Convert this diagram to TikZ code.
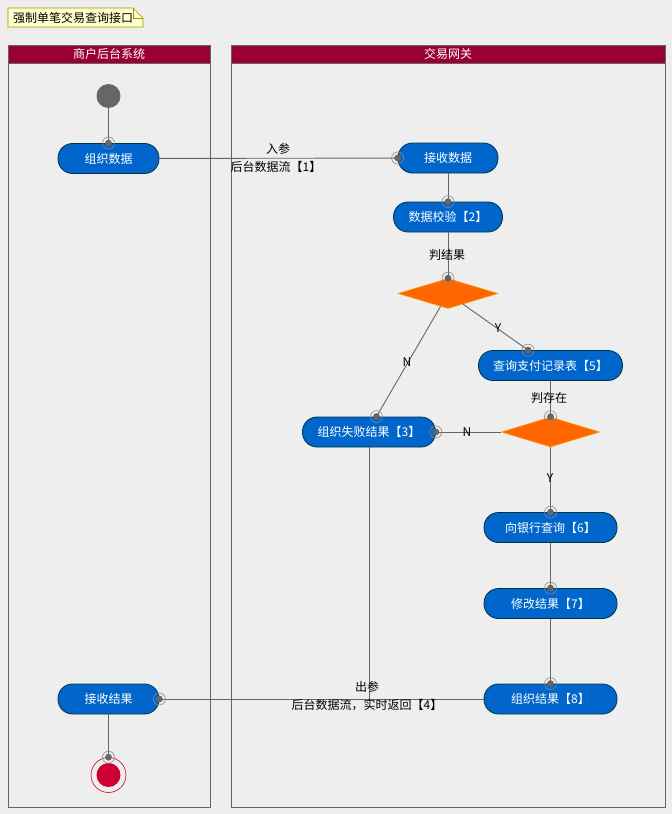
\documentclass[tikz,border=0pt]{standalone}
\usepackage{fontspec}
\setmainfont{Noto Sans CJK SC}
\usetikzlibrary{shapes.geometric,calc}
\definecolor{bg}{HTML}{EEEEEE}
\definecolor{hdr}{HTML}{990033}
\definecolor{lanegray}{HTML}{666666}
\definecolor{nodeblue}{HTML}{0066CC}
\definecolor{nodeborder}{HTML}{003344}
\definecolor{decfill}{HTML}{FF6600}
\definecolor{decborder}{HTML}{FF9900}
\definecolor{linegray}{HTML}{666666}
\definecolor{ringgray}{HTML}{888888}
\definecolor{dotgray}{HTML}{666666}
\definecolor{endred}{HTML}{CC0033}
\definecolor{notefill}{HTML}{FFFFCC}
\definecolor{noteborder}{HTML}{999900}
\begin{document}
\begin{tikzpicture}[x=1pt,y=-1pt,
  font=\fontsize{12pt}{14pt}\selectfont,
  act/.style={draw=nodeborder, fill=nodeblue, text=white, rounded corners=14.5pt,
    minimum height=30pt, inner sep=0pt, line width=0.8pt},
  dec/.style={diamond, draw=decborder, fill=decfill, minimum width=100pt,
    minimum height=30pt, inner sep=0pt, line width=0.6pt},
  conn/.style={draw=linegray, line width=0.9pt},
  emark/.style={circle, draw=ringgray, minimum size=12pt, inner sep=0pt, line width=0.6pt,
    path picture={\fill[dotgray] (path picture bounding box.center) circle (3.4pt);}},
  lanehdr/.style={fill=hdr, text=white, minimum height=18pt, inner sep=0pt},
  lanebox/.style={draw=lanegray, line width=0.9pt},
  lbl/.style={inner sep=1pt, text=black}
]
\useasboundingbox[fill=bg] (0,0) rectangle (672,814);

% note
\draw[fill=notefill, draw=noteborder, line width=0.7pt]
  (8,8) -- (133,8) -- (143,18) -- (143,27) -- (8,27) -- cycle;
\draw[draw=noteborder, line width=0.7pt] (133,8) -- (133,18) -- (143,18);
\node[inner sep=0pt] (title) at (73,17.5) {强制单笔交易查询接口};

% lanes
\node[lanehdr, minimum width=202pt] (lane1) at (109,54) {商户后台系统};
\node[lanehdr, minimum width=434pt] (lane2) at (448,54) {交易网关};
\draw[lanebox] (8,45) rectangle (210,807);
\draw[lanebox] (8,63) -- (210,63);
\draw[lanebox] (231,45) rectangle (665,807);
\draw[lanebox] (231,63) -- (665,63);

% nodes
\node[circle, fill=dotgray, minimum size=24pt, inner sep=0pt] (start) at (108.5,96) {};
\node[act, minimum width=101pt] (n1) at (108.5,158.5) {组织数据};
\node[act, minimum width=100pt] (n2) at (448,158) {接收数据};
\node[act, minimum width=109pt] (n3) at (448,217) {数据校验【2】};
\node[dec] (d1) at (448,293.5) {};
\node[act, minimum width=144pt] (q5) at (550.5,365.5) {查询支付记录表【5】};
\node[dec, minimum width=98pt] (d2) at (550.5,432) {};
\node[act, minimum width=133pt] (f3) at (369,432) {组织失败结果【3】};
\node[act, minimum width=133pt] (q6) at (550.5,527.5) {向银行查询【6】};
\node[act, minimum width=133pt] (q7) at (550.5,603.5) {修改结果【7】};
\node[act, minimum width=133pt] (o8) at (550.5,699) {组织结果【8】};
\node[act, minimum width=101pt] (r1) at (108.5,699) {接收结果};
\node[circle, draw=endred, line width=0.6pt, minimum size=35pt, inner sep=0pt,
  path picture={\fill[endred] (path picture bounding box.center) circle (12pt);}] (end) at (108.5,775) {};

% connectors
\draw[conn] (start) -- (n1);
\draw[conn] (n1) -- (n2);
\draw[conn] (n2) -- (n3);
\draw[conn] (n3) -- (d1);
\draw[conn] (d1) -- ([xshift=7.5pt]f3.north);
\draw[conn] (d1) -- ([xshift=-22.5pt]q5.north);
\draw[conn] (q5) -- (d2);
\draw[conn] (d2) -- (f3);
\draw[conn] (d2) -- (q6);
\draw[conn] (q6) -- (q7);
\draw[conn] (q7) -- (o8);
\draw[conn] (o8) -- (r1);
\draw[conn] (f3.south) |- (r1.east);
\draw[conn] (r1) -- (end);

% end markers
\node[emark] at (n1.north) {};
\node[emark] at (n2.west) {};
\node[emark] at (n3.north) {};
\node[emark] at (d1.north) {};
\node[emark] at ([xshift=7.5pt]f3.north) {};
\node[emark] at ([xshift=-22.5pt]q5.north) {};
\node[emark] at (d2.north) {};
\node[emark] at (f3.east) {};
\node[emark] at (q6.north) {};
\node[emark] at (q7.north) {};
\node[emark] at (o8.north) {};
\node[emark] at (r1.east) {};
\node[emark] at (end.north) {};

% labels
\node[lbl] (l1a) at (278,149) {入参};
\node[lbl] (l1b) at (276,167) {后台数据流【1】};
\node[lbl] (l2) at (447,255) {判结果};
\node[lbl] (l3) at (407,362) {N};
\node[lbl] (l4) at (498,328) {Y};
\node[lbl] (l5) at (549,398) {判存在};
\node[lbl] (l6) at (467,432) {N};
\node[lbl] (l7) at (550,478) {Y};
\node[lbl] (l8a) at (367,687) {出参};
\node[lbl] (l8b) at (367,705) {后台数据流，实时返回【4】};
\end{tikzpicture}
\end{document}
